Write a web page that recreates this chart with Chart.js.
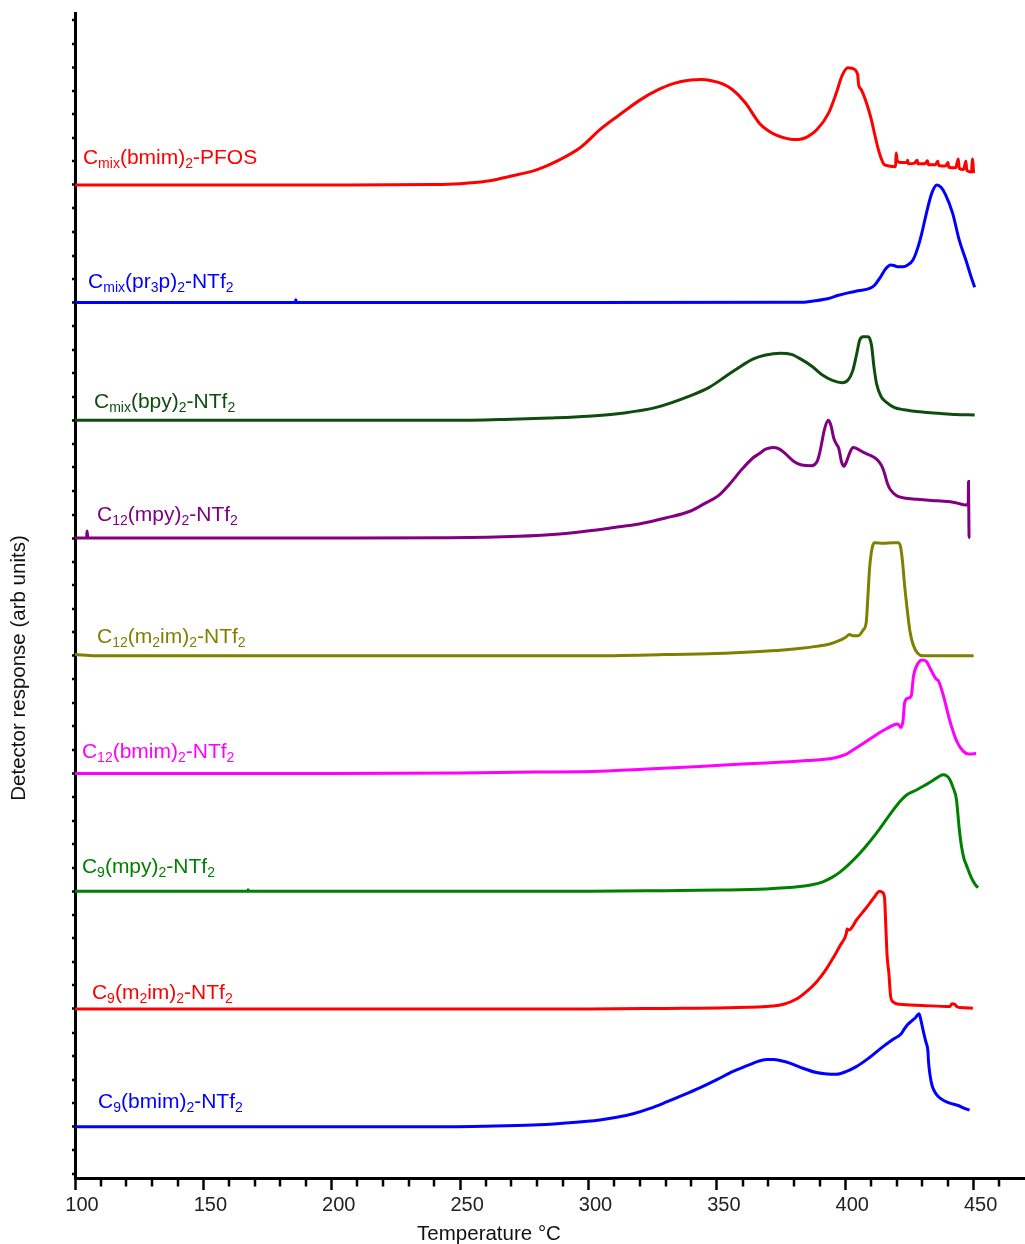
<!DOCTYPE html>
<html>
<head>
<meta charset="utf-8">
<title>Detector response vs temperature</title>
<script src="https://cdn.jsdelivr.net/npm/chart.js@4.4.1/dist/chart.umd.min.js"></script>
<style>
  html, body { margin: 0; padding: 0; background: #fff; }
</style>
</head>
<body>
<canvas id="div1" width="1025" height="1244"></canvas>
<script>

//----- data -----
// each trace is [temperature C, response above its own baseline (arb units)]
// traces are stacked, one baseline per major y tick (offsets below)

var cmixBmimPfos = [
  [100,0],[200,0],[240,0.003],[250,0.01],[260,0.03],[270,0.075],[280,0.13],[287.5,0.2],[297,0.32],
  [305,0.48],[313,0.61],[320,0.72],[326.4,0.8],[333,0.86],[339.8,0.89],[344,0.895],[347.9,0.885],
  [352,0.86],[356,0.81],[361,0.7],[366.7,0.52],[370,0.46],[373.4,0.42],[377,0.395],[380,0.385],
  [383,0.39],[385.4,0.41],[389,0.47],[393.5,0.61],[396.5,0.78],[398.8,0.93],[401,0.995],[402.5,0.99],
  [404.8,0.94],[405.2,0.85],[406.2,0.81],[409.6,0.6],[412.9,0.3],[414.9,0.18],[416,0.165],[419.6,0.155],
  [419.8,0.27],[420.3,0.2],[421.6,0.19],[424,0.19],[424.3,0.21],[424.6,0.18],[427,0.185],[428,0.21],
  [428.3,0.18],[431,0.18],[432,0.205],[432.4,0.17],[435,0.17],[436,0.2],[436.4,0.165],[439,0.16],
  [440,0.19],[440.3,0.15],[443,0.145],[444,0.22],[444.4,0.14],[446,0.13],[447,0.2],[447.3,0.125],
  [449.2,0.11],[449.5,0.22],[450,0.1]
];

var cmixPr3pNtf2 = [
  [100,0],[185.8,0],[186,0.025],[186.3,0],[300,0],[382,0.002],[388,0.015],[393.5,0.035],[397,0.06],
  [401.5,0.085],[405,0.1],[409.5,0.12],[411.5,0.15],[413.5,0.21],[415.5,0.28],[417.6,0.32],[419,0.315],
  [420.3,0.305],[422.5,0.305],[424.3,0.32],[426.3,0.36],[428,0.45],[429.7,0.58],[431.5,0.75],[433.7,0.93],
  [435.7,1.0],[437.3,0.98],[439,0.92],[441.8,0.76],[444.4,0.53],[447,0.36],[449,0.22],[450.4,0.13]
];

var cmixBpyNtf2 = [
  [100,0],[200,0],[246,0],[270,0.01],[284.9,0.02],[300,0.035],[313,0.06],[326.4,0.11],[339.8,0.21],
  [347,0.28],[353.2,0.37],[358,0.44],[364,0.52],[369,0.555],[374.7,0.57],[379,0.56],[382.7,0.52],
  [387,0.46],[390.8,0.39],[395,0.34],[398.8,0.32],[401,0.34],[402.9,0.42],[404.5,0.57],[405.6,0.68],
  [406.9,0.71],[408.9,0.71],[410.2,0.64],[411.2,0.45],[412.2,0.31],[414,0.2],[416.2,0.15],[419,0.11],
  [422.9,0.09],[430,0.07],[436.3,0.06],[443,0.05],[450.4,0.045]
];

var c12MpyNtf2 = [
  [100,0],[104.5,0],[104.7,0.06],[105,0],[200,0],[246,0.003],[272.8,0.015],[286,0.03],[299.6,0.06],
  [310,0.09],[319.7,0.12],[330,0.17],[339.8,0.23],[345,0.29],[350.6,0.36],[355,0.46],[360,0.59],
  [364,0.68],[366.7,0.72],[369,0.755],[372,0.77],[374,0.76],[376,0.73],[378,0.69],[380,0.65],
  [383,0.62],[386.8,0.615],[389,0.65],[390,0.72],[392.1,0.94],[393.5,1.0],[394.5,0.95],[395.5,0.85],
  [396.5,0.8],[397.5,0.76],[398.5,0.65],[399.5,0.61],[400.5,0.65],[401.5,0.71],[403,0.77],[404.5,0.76],
  [406.9,0.73],[409,0.71],[412.2,0.67],[414,0.62],[415,0.57],[416.5,0.46],[417.6,0.41],[420,0.36],
  [422.9,0.34],[428,0.33],[433.7,0.32],[440,0.31],[443,0.3],[447,0.28],[447.9,0.3],[448,0.48],
  [448.2,0.02],[448.6,0]
];

var c12M2imNtf2 = [
  [100,0.01],[108,0],[300,0],[330,0.01],[349.8,0.02],[365,0.035],[375.8,0.05],[383,0.065],[388.8,0.08],
  [394,0.1],[397.8,0.13],[400,0.155],[401.7,0.18],[403,0.17],[405,0.17],[407,0.22],[408.2,0.29],
  [408.8,0.5],[409.5,0.75],[410.5,0.92],[411.5,0.96],[414.7,0.955],[418.6,0.96],[420.5,0.96],
  [421.5,0.93],[422.3,0.8],[423.1,0.6],[424.2,0.38],[425.1,0.22],[426.5,0.09],[428.3,0.02],[430.3,0],
  [450,0]
];

var c12BmimNtf2 = [
  [100,0],[200,0],[250,0.005],[280,0.012],[304.4,0.02],[325,0.04],[343.3,0.06],[360,0.08],[369.3,0.09],
  [385,0.11],[395.2,0.13],[400,0.16],[403,0.2],[408,0.27],[412.1,0.33],[416,0.38],[418.6,0.41],
  [420.5,0.42],[421.7,0.39],[422.5,0.45],[423.1,0.6],[424.5,0.64],[425.7,0.66],[426.6,0.83],
  [428.3,0.935],[430,0.965],[431.5,0.955],[432.9,0.9],[435.5,0.8],[436.2,0.79],[438.1,0.67],
  [440.7,0.45],[443.3,0.28],[445.9,0.19],[448,0.165],[451,0.17]
];

var c9MpyNtf2 = [
  [100,0],[167.2,0],[167.4,0.012],[167.6,0],[300,0],[330,0.005],[351.1,0.01],[369.3,0.02],[382.3,0.04],
  [387,0.055],[391.3,0.08],[395,0.12],[397.8,0.16],[401.5,0.23],[405.6,0.32],[409.5,0.42],[413.4,0.53],
  [417,0.64],[421.2,0.76],[424,0.82],[427.7,0.86],[431,0.9],[434.1,0.94],[436.5,0.975],[438.1,0.99],
  [439.5,0.98],[440.7,0.95],[442,0.88],[443.3,0.78],[444.3,0.55],[445.2,0.39],[446.2,0.28],
  [447.2,0.22],[449,0.12],[450.5,0.06],[451.7,0.03]
];

var c9M2imNtf2 = [
  [100,0],[300,0],[330,0.005],[353.7,0.01],[371.9,0.025],[376,0.04],[381,0.085],[385,0.15],[388.8,0.23],
  [392,0.32],[395.2,0.43],[398,0.54],[400.4,0.64],[400.7,0.68],[401.4,0.67],[404.5,0.76],[408.2,0.86],
  [411,0.94],[413.4,1.0],[414.5,0.99],[415.3,0.94],[415.8,0.7],[416.3,0.45],[417,0.3],[417.6,0.12],
  [418.6,0.06],[421.2,0.04],[430,0.03],[440.7,0.02],[441.6,0.045],[442.6,0.04],[443.5,0.02],
  [444.5,0.012],[449.7,0.007]
];

var c9BmimNtf2 = [
  [100,0],[200,0],[246,0],[260,0.004],[278.4,0.014],[290,0.03],[304.4,0.057],[311,0.08],[317.4,0.11],
  [324,0.155],[330.4,0.21],[337,0.27],[343.3,0.33],[350,0.4],[356.3,0.47],[362,0.52],[366,0.555],
  [369.3,0.57],[372,0.57],[375,0.56],[378.4,0.54],[383,0.5],[388.8,0.46],[392,0.45],[396.5,0.445],
  [400.5,0.47],[404.3,0.51],[409,0.58],[414.7,0.68],[418.5,0.74],[421.8,0.79],[423,0.83],[424.4,0.87],
  [426,0.9],[427.5,0.93],[428.7,0.96],[429.3,0.92],[430.3,0.82],[431.4,0.72],[432.2,0.64],[432.4,0.56],
  [433,0.44],[433.8,0.35],[435,0.29],[436.5,0.25],[438.5,0.22],[440.7,0.2],[444,0.18],[446,0.16],
  [448.4,0.14]
];

// top to bottom, same order everywhere
var traces = [cmixBmimPfos, cmixPr3pNtf2, cmixBpyNtf2, c12MpyNtf2, c12M2imNtf2,
              c12BmimNtf2, c9MpyNtf2, c9M2imNtf2, c9BmimNtf2];

// names use _{..} for subscripts
var traceNames = [
  'C_{mix}(bmim)_{2}-PFOS',
  'C_{mix}(pr_{3}p)_{2}-NTf_{2}',
  'C_{mix}(bpy)_{2}-NTf_{2}',
  'C_{12}(mpy)_{2}-NTf_{2}',
  'C_{12}(m_{2}im)_{2}-NTf_{2}',
  'C_{12}(bmim)_{2}-NTf_{2}',
  'C_{9}(mpy)_{2}-NTf_{2}',
  'C_{9}(m_{2}im)_{2}-NTf_{2}',
  'C_{9}(bmim)_{2}-NTf_{2}'
];

// baseline of each trace (stacking offset)
var traceOffsets = [8, 7, 6, 5, 4, 3, 2, 1, 0];

// tick values
var xMajorTicks = [100, 150, 200, 250, 300, 350, 400, 450];
var xMinorTicks = [110, 120, 130, 140, 160, 170, 180, 190, 210, 220, 230, 240, 260, 270, 280, 290,
                   310, 320, 330, 340, 360, 370, 380, 390, 410, 420, 430, 440, 460];
var yMajorTicks = [0, 1, 2, 3, 4, 5, 6, 7, 8, 9];

// axis titles
var xTitle = 'Temperature \u00B0C';
var yTitle = 'Detector response (arb units)';

//----- styles and placement (kept apart from the data) -----
var traceColors = ['#ff0000', '#0000ff', '#0f4d0f', '#800080', '#808000',
                   '#ff00ff', '#008000', '#ff0000', '#0000ff'];
// where each name sits: temperature of its left edge, height above the trace baseline
var labelAtT = [103.1, 105.1, 107.4, 108.6, 108.6, 102.7, 102.7, 106.6, 109];
var labelLift = [0.18, 0.125, 0.105, 0.145, 0.11, 0.136, 0.156, 0.085, 0.156];

var FONT = '"Liberation Sans", Arial, Helvetica, sans-serif';


//split 'C_{mix}(bmim)_{2}' into [{t:'C',sub:false},{t:'mix',sub:true},...]
function splitName(s) {
  var parts = [];
  var re = /_\{([^}]*)\}/g, last = 0, m;
  while ((m = re.exec(s)) !== null) {
    if (m.index > last) parts.push({t: s.slice(last, m.index), sub: false});
    parts.push({t: m[1], sub: true});
    last = re.lastIndex;
  }
  if (last < s.length) parts.push({t: s.slice(last), sub: false});
  return parts;
}

//minor ticks on y: 4 between each pair of majors, plus the bits past the ends
function yMinorList() {
  var out = [];
  for (var i = -1; i < yMajorTicks.length; i++) {
    for (var k = 1; k < 5; k++) {
      out.push(+(i + k * 0.2).toFixed(2));
    }
  }
  return out;
}

//draws the things chart.js has no option for: minor ticks, trace names, axis titles
var extrasPlugin = {
  id: 'extras',
  afterDraw: function(chart) {
    var ctx = chart.ctx, xs = chart.scales.x, ys = chart.scales.y, area = chart.chartArea;
    ctx.save();

    // minor ticks
    ctx.strokeStyle = '#000';
    ctx.lineWidth = 2.5;
    ctx.beginPath();
    xMinorTicks.forEach(function(v) {
      var px = Math.round(xs.getPixelForValue(v));
      ctx.moveTo(px, area.bottom);
      ctx.lineTo(px, area.bottom + 8);
    });
    yMinorList().forEach(function(v) {
      var py = Math.round(ys.getPixelForValue(v));
      if (py < area.top || py > area.bottom) return;
      ctx.moveTo(area.left, py);
      ctx.lineTo(area.left - 3, py);
    });
    ctx.stroke();

    // trace names with subscripts
    traceNames.forEach(function(name, i) {
      var x = xs.getPixelForValue(labelAtT[i]);
      var y = ys.getPixelForValue(traceOffsets[i] + labelLift[i]);
      ctx.fillStyle = traceColors[i];
      ctx.textBaseline = 'alphabetic';
      ctx.textAlign = 'left';
      splitName(name).forEach(function(p) {
        ctx.font = (p.sub ? '14px ' : '21px ') + FONT;
        ctx.fillText(p.t, x, p.sub ? y + 4 : y);
        x += ctx.measureText(p.t).width;
      });
    });

    // axis titles (the original puts them off-centre, so place by hand)
    ctx.fillStyle = '#111';
    ctx.font = '20.5px ' + FONT;
    ctx.textAlign = 'center';
    ctx.textBaseline = 'alphabetic';
    ctx.fillText(xTitle, 489, 1240);

    ctx.translate(25, 668);
    ctx.rotate(-Math.PI / 2);
    ctx.fillText(yTitle, 0, 0);

    ctx.restore();
  }
};


//build one dataset per trace, lifted onto its baseline
var datasets = traces.map(function(tr, i) {
  return {
    label: traceNames[i],
    data: tr.map(function(p) { return {x: p[0], y: p[1] + traceOffsets[i]}; }),
    borderColor: traceColors[i],
    borderWidth: 3,
    pointRadius: 0,
    fill: false,
    cubicInterpolationMode: 'monotone'
  };
});

var c = new Chart(document.getElementById('div1'), {
  type: 'line',
  data: {datasets: datasets},
  options: {
    responsive: false,
    devicePixelRatio: 1,
    animation: false,
    layout: {padding: {left: 72, right: 0, top: 13, bottom: 23}},
    plugins: {legend: {display: false}, tooltip: {enabled: false}},
    scales: {
      x: {
        type: 'linear',
        min: 100,
        max: 470,
        afterBuildTicks: function(s) { s.ticks = xMajorTicks.map(function(v) { return {value: v}; }); },
        border: {color: '#000', width: 3},
        grid: {drawOnChartArea: false, tickLength: 11.5, tickWidth: 2.5, tickColor: '#000'},
        ticks: {color: '#222', padding: 3.5, labelOffset: 7, maxRotation: 0,
                font: {family: FONT, size: 20, lineHeight: 1.2}}
      },
      y: {
        type: 'linear',
        min: -0.44,
        max: 9.46,
        afterBuildTicks: function(s) { s.ticks = yMajorTicks.map(function(v) { return {value: v}; }); },
        border: {color: '#000', width: 3},
        grid: {drawOnChartArea: false, tickLength: 3, tickWidth: 2.5, tickColor: '#000'},
        ticks: {display: false}
      }
    }
  },
  plugins: [extrasPlugin]
});

</script>
</body>
</html>
